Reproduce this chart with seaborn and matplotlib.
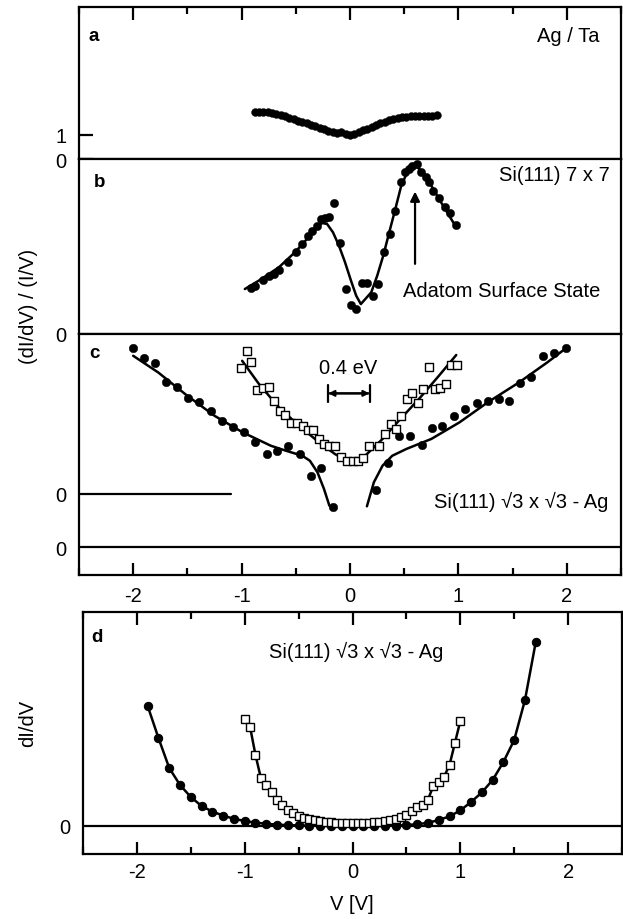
import matplotlib
matplotlib.use("Agg")
import matplotlib.pyplot as plt
import pandas as pd
import seaborn as sns

# ---- data (arbitrary units per panel) ----
# a: Ag / Ta normalized conductance
a_v = [-0.88, -0.84, -0.80, -0.76, -0.72, -0.68, -0.64, -0.60, -0.56, -0.52, -0.48,
       -0.44, -0.40, -0.36, -0.32, -0.28, -0.24, -0.20, -0.16, -0.12, -0.08, -0.04,
       0.00, 0.04, 0.08, 0.12, 0.16, 0.20, 0.24, 0.28, 0.32, 0.36, 0.40, 0.44,
       0.48, 0.52, 0.56, 0.60, 0.64, 0.68, 0.72, 0.76, 0.80]
a_y = [1.97, 1.97, 1.96, 1.94, 1.91, 1.87, 1.82, 1.77, 1.72, 1.66, 1.60,
       1.54, 1.48, 1.42, 1.36, 1.29, 1.23, 1.18, 1.13, 1.10, 1.12, 1.06,
       1.00, 1.06, 1.13, 1.20, 1.27, 1.35, 1.42, 1.50, 1.56, 1.62, 1.67, 1.71,
       1.74, 1.76, 1.77, 1.78, 1.78, 1.79, 1.79, 1.80, 1.82]

# b: Si(111) 7x7 points and fitted curve
b_v = [-0.915, -0.878, -0.804, -0.748, -0.70, -0.656, -0.575, -0.50, -0.445, -0.39,
       -0.35, -0.305, -0.268, -0.231, -0.194, -0.146, -0.094, -0.035, 0.009, 0.057,
       0.113, 0.157, 0.212, 0.257, 0.312, 0.368, 0.416, 0.471, 0.508, 0.545, 0.571,
       0.619, 0.656, 0.704, 0.73, 0.767, 0.822, 0.878, 0.925, 0.98]
b_y = [2.61, 2.76, 3.09, 3.33, 3.43, 3.68, 4.10, 4.67, 5.14, 5.58,
       5.90, 6.19, 6.57, 6.61, 6.67, 7.49, 5.20, 2.57, 1.68, 1.43,
       2.91, 2.91, 2.15, 2.86, 4.67, 5.71, 7.01, 8.67, 9.28, 9.43, 9.58,
       9.71, 9.28, 8.95, 8.67, 8.19, 7.77, 7.24, 6.91, 6.23]
b_fit_v = [-0.97, -0.841, -0.656, -0.508, -0.397, -0.305, -0.257, -0.212, -0.157,
           -0.102, -0.046, 0.009, 0.057, 0.10, 0.196, 0.251, 0.307, 0.362, 0.418,
           0.473, 0.528, 0.602, 0.676, 0.75, 0.822, 0.896, 0.98]
b_fit_y = [2.57, 3.05, 3.81, 4.67, 5.43, 6.10, 6.34, 6.29, 5.81,
           5.05, 4.10, 3.05, 2.19, 1.71, 2.38, 3.33, 4.48, 5.81, 7.14,
           8.48, 9.24, 9.62, 9.24, 8.48, 7.71, 6.95, 6.10]

# c: Si(111) sqrt3 x sqrt3 - Ag, filled circles (wide range) and open squares
c_dot_v = [-2.00, -1.90, -1.80, -1.70, -1.60, -1.49, -1.39, -1.28, -1.18, -1.08,
           -0.98, -0.88, -0.77, -0.67, -0.57, -0.46, -0.36, -0.27, -0.16,
           0.24, 0.35, 0.45, 0.55, 0.66, 0.76, 0.85, 0.96, 1.06, 1.17, 1.27,
           1.37, 1.47, 1.57, 1.67, 1.78, 1.88, 1.99]
c_dot_y = [9.97, 9.45, 9.21, 8.28, 8.00, 7.45, 7.25, 6.83, 6.33, 6.00,
           5.78, 5.25, 4.67, 4.83, 5.05, 4.67, 3.58, 3.95, 2.00,
           2.88, 4.22, 5.55, 5.58, 5.13, 5.97, 6.05, 6.58, 6.92, 7.20, 7.30,
           7.42, 7.30, 8.22, 8.50, 9.58, 9.70, 9.95]
c_fit_left_v = [-2.00, -1.77, -1.51, -1.25, -0.99, -0.73, -0.59, -0.44, -0.37, -0.30, -0.24, -0.19]
c_fit_left_y = [9.58, 8.75, 7.62, 6.58, 5.75, 5.08, 4.83, 4.58, 4.33, 3.75, 2.92, 2.08]
c_fit_right_v = [0.156, 0.22, 0.30, 0.39, 0.52, 0.75, 1.01, 1.27, 1.56, 1.82, 1.99]
c_fit_right_y = [2.05, 3.25, 4.08, 4.58, 4.92, 5.42, 6.25, 7.25, 8.25, 9.25, 9.95]
c_sq_v = [-1.01, -0.95, -0.91, -0.86, -0.80, -0.75, -0.70, -0.65, -0.60, -0.545,
          -0.49, -0.43, -0.386, -0.34, -0.286, -0.242, -0.19, -0.14, -0.083, -0.028,
          0.028, 0.076, 0.12, 0.176, 0.268, 0.323, 0.379, 0.427, 0.47, 0.527,
          0.575, 0.626, 0.674, 0.73, 0.785, 0.833, 0.885, 0.933, 0.988]
c_sq_y = [8.97, 9.83, 9.25, 7.87, 7.97, 8.03, 7.33, 6.83, 6.63, 6.22,
          6.22, 6.05, 5.88, 5.88, 5.42, 5.17, 5.08, 5.05, 4.53, 4.33,
          4.33, 4.33, 4.45, 5.08, 5.08, 5.67, 6.17, 5.92, 6.58, 7.42,
          7.72, 7.20, 7.92, 9.00, 7.92, 7.97, 8.17, 9.12, 9.12]
c_sq_fit_v = [-0.995, -0.84, -0.656, -0.47, -0.286, -0.14, -0.03, 0.085, 0.157, 0.30, 0.45, 0.636, 0.82, 0.98]
c_sq_fit_y = [9.33, 8.17, 7.00, 6.08, 5.25, 4.67, 4.33, 4.33, 4.67, 5.42, 6.33, 7.42, 8.58, 9.62]
c_zero2 = 2.67  # second baseline in panel c

# d: dI/dV
d_dot_v = [-1.9, -1.8, -1.7, -1.6, -1.5, -1.4, -1.3, -1.2, -1.1, -1.0, -0.9, -0.8,
           -0.7, -0.6, -0.5, -0.4, -0.3, -0.2, -0.1, 0.0, 0.1, 0.2, 0.3, 0.4, 0.5,
           0.6, 0.7, 0.8, 0.9, 1.0, 1.1, 1.2, 1.3, 1.4, 1.5, 1.6, 1.7]
d_dot_y = [6.0, 4.4, 2.9, 2.05, 1.45, 1.0, 0.72, 0.52, 0.36, 0.25, 0.17, 0.11,
           0.07, 0.04, 0.03, 0.02, 0.01, 0.0, 0.0, 0.0, 0.0, 0.0, 0.01, 0.02, 0.05,
           0.09, 0.16, 0.30, 0.48, 0.78, 1.2, 1.68, 2.3, 3.2, 4.3, 6.3, 9.2]
d_sq_v = [-1.00, -0.95, -0.90, -0.85, -0.80, -0.75, -0.70, -0.65, -0.60, -0.55,
          -0.50, -0.45, -0.40, -0.35, -0.30, -0.25, -0.20, -0.15, -0.10, -0.05,
          0.00, 0.05, 0.10, 0.15, 0.20, 0.25, 0.30, 0.35, 0.40, 0.45, 0.50,
          0.55, 0.60, 0.65, 0.70, 0.75, 0.80, 0.85, 0.90, 0.95, 1.00]
d_sq_y = [5.35, 4.95, 3.55, 2.40, 2.05, 1.70, 1.30, 1.05, 0.82, 0.65,
          0.52, 0.42, 0.36, 0.30, 0.25, 0.22, 0.19, 0.17, 0.16, 0.15,
          0.15, 0.15, 0.16, 0.17, 0.19, 0.22, 0.27, 0.32, 0.37, 0.43, 0.55,
          0.75, 0.93, 1.05, 1.32, 2.00, 2.18, 2.47, 3.05, 4.15, 5.25]

x_major = [-2, -1, 0, 1, 2]
x_minor = [-2.5, -1.5, -0.5, 0.5, 1.5, 2.5]

sns.set_style("ticks")
plt.rcParams['font.family'] = ['Liberation Sans', 'DejaVu Sans']
plt.rcParams['font.size'] = 14.5
plt.rcParams['axes.unicode_minus'] = False
for key in ['text.color', 'axes.labelcolor', 'axes.edgecolor', 'xtick.color', 'ytick.color']:
    plt.rcParams[key] = 'black'

fig = plt.figure(figsize=(6.23, 9.20), dpi=100)
W, H = 623.0, 920.0

def box(x0, y0, x1, y1):
    return fig.add_axes([x0 / W, 1 - y1 / H, (x1 - x0) / W, (y1 - y0) / H])

ax_a = box(79, 8, 621, 160)
ax_b = box(79, 160, 621, 335)
ax_c = box(79, 335, 621, 576)
ax_d = box(83, 613, 622, 855)

def style(ax, ylim, top=False, bottom=False, labels=False):
    ax.set_xlim(-2.5, 2.5)
    ax.set_ylim(*ylim)
    for s in ax.spines.values():
        s.set_linewidth(1.6)
        s.set_visible(True)
        s.set_color('black')
    ax.set_xticks(x_major)
    ax.set_xticks(x_minor, minor=True)
    ax.tick_params(axis='x', which='both', direction='in', top=top, bottom=bottom,
                   labelbottom=labels, labeltop=False, width=1.6, labelsize=14.5, pad=8)
    ax.tick_params(axis='x', which='major', length=9)
    ax.tick_params(axis='x', which='minor', length=5)
    ax.tick_params(axis='y', which='both', direction='in', length=0, labelsize=14.5, pad=9)
    ax.set_xlabel('')
    ax.set_ylabel('')

# ---- panel a ----
dfa = pd.DataFrame({'V': a_v, 'y': a_y})
sns.scatterplot(data=dfa, x='V', y='y', ax=ax_a, color='black', s=32, edgecolor='black', linewidth=0.3)
style(ax_a, (0, 6.33), top=True)
ax_a.set_yticks([0, 1])
ax_a.set_yticklabels(['0', '1'])
ax_a.tick_params(axis='y', length=10, width=1.6)
ax_a.text(0.018, 0.81, 'a', transform=ax_a.transAxes, fontweight='bold', fontsize=13.5, va='center')
ax_a.text(0.961, 0.81, 'Ag / Ta', transform=ax_a.transAxes, ha='right', va='center')

# ---- panel b ----
dfb = pd.DataFrame({'V': b_v, 'y': b_y})
dfb_fit = pd.DataFrame({'V': b_fit_v, 'y': b_fit_y})
sns.lineplot(data=dfb_fit, x='V', y='y', ax=ax_b, color='black', lw=1.8, estimator=None)
sns.scatterplot(data=dfb, x='V', y='y', ax=ax_b, color='black', s=36, edgecolor='black', linewidth=0.3, zorder=3)
style(ax_b, (0, 10))
ax_b.set_yticks([0])
ax_b.set_yticklabels(['0'])
ax_b.text(0.028, 0.869, 'b', transform=ax_b.transAxes, fontweight='bold', fontsize=13.5, va='center')
ax_b.text(0.98, 0.914, 'Si(111) 7 x 7', transform=ax_b.transAxes, ha='right', va='center')
ax_b.text(0.78, 0.246, 'Adatom Surface State', transform=ax_b.transAxes, ha='center', va='center')
ax_b.annotate('', xy=(0.6, 8.3), xytext=(0.6, 3.85),
              arrowprops=dict(arrowstyle='-|>', color='black', lw=1.6, mutation_scale=14))

# ---- panel c ----
dfc_dot = pd.DataFrame({'V': c_dot_v, 'y': c_dot_y})
dfc_sq = pd.DataFrame({'V': c_sq_v, 'y': c_sq_y})
sns.lineplot(data=pd.DataFrame({'V': c_fit_left_v, 'y': c_fit_left_y}), x='V', y='y',
             ax=ax_c, color='black', lw=1.8, estimator=None)
sns.lineplot(data=pd.DataFrame({'V': c_fit_right_v, 'y': c_fit_right_y}), x='V', y='y',
             ax=ax_c, color='black', lw=1.8, estimator=None)
sns.lineplot(data=pd.DataFrame({'V': c_sq_fit_v, 'y': c_sq_fit_y}), x='V', y='y',
             ax=ax_c, color='black', lw=1.8, estimator=None)
sns.scatterplot(data=dfc_dot, x='V', y='y', ax=ax_c, color='black', s=38, edgecolor='black', linewidth=0.3, zorder=3)
sns.scatterplot(data=dfc_sq, x='V', y='y', ax=ax_c, marker='s', facecolor='white', edgecolor='black',
                s=32, linewidth=1.0, zorder=3)
ax_c.axhline(0, color='black', lw=1.6)
ax_c.axhline(c_zero2, xmin=0, xmax=0.28, color='black', lw=1.6)
style(ax_c, (-1.385, 10.67), bottom=True, labels=True)
ax_c.set_yticks([0, c_zero2])
ax_c.set_yticklabels(['0', '0'])
ax_c.text(0.018, 0.925, 'c', transform=ax_c.transAxes, fontweight='bold', fontsize=13.5, va='center')
ax_c.text(0.976, 0.307, 'Si(111) \u221a3 x \u221a3 - Ag', transform=ax_c.transAxes, ha='right', va='center')
ax_c.text(-0.02, 9.0, '0.4 eV', ha='center', va='center')
ax_c.annotate('', xy=(-0.2, 7.7), xytext=(0.18, 7.7),
              arrowprops=dict(arrowstyle='<|-|>', color='black', lw=1.4, mutation_scale=9, shrinkA=0, shrinkB=0))
ax_c.annotate('', xy=(-0.2, 7.7), xytext=(0.18, 7.7),
              arrowprops=dict(arrowstyle='|-|', color='black', lw=1.6, mutation_scale=6, shrinkA=0, shrinkB=0))

# ---- panel d ----
dfd_dot = pd.DataFrame({'V': d_dot_v, 'y': d_dot_y})
dfd_sq = pd.DataFrame({'V': d_sq_v, 'y': d_sq_y})
ax_d.axhline(0, color='black', lw=1.6)
sns.lineplot(data=dfd_dot, x='V', y='y', ax=ax_d, color='black', lw=1.8, marker='o',
             markersize=6, markeredgecolor='black', estimator=None, zorder=3)
sns.lineplot(data=dfd_sq, x='V', y='y', ax=ax_d, color='black', lw=1.8, marker='s',
             markersize=5.5, markerfacecolor='white', markeredgecolor='black',
             markeredgewidth=1.0, estimator=None, zorder=3)
style(ax_d, (-1.4, 10.7), top=True, bottom=True, labels=True)
ax_d.tick_params(axis='x', pad=6)
ax_d.set_yticks([0])
ax_d.set_yticklabels(['0'])
ax_d.text(0.015, 0.897, 'd', transform=ax_d.transAxes, fontweight='bold', fontsize=13.5, va='center')
ax_d.text(0.506, 0.839, 'Si(111) \u221a3 x \u221a3 - Ag', transform=ax_d.transAxes, ha='center', va='center')

# axis titles
fig.text(28 / W, 1 - 306 / H, '(dI/dV) / (I/V)', rotation=90, ha='center', va='center')
fig.text(28 / W, 1 - 723 / H, 'dI/dV', rotation=90, ha='center', va='center')
fig.text(352 / W, 1 - 905 / H, 'V [V]', ha='center', va='center')

fig.savefig('out.png', dpi=100)
